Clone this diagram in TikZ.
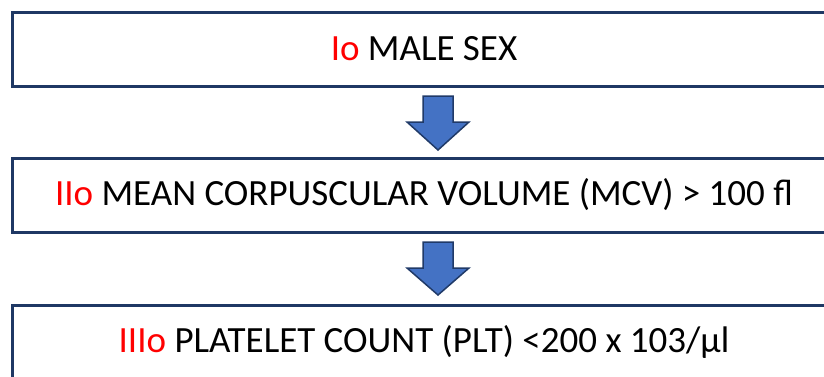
\documentclass[tikz,border=0pt]{standalone}
\usepackage{fontspec}
\setmainfont{Carlito}
\definecolor{boxline}{HTML}{1F3864}
\definecolor{arrfill}{HTML}{4472C4}
\definecolor{arrline}{HTML}{203A68}
\begin{document}
\begin{tikzpicture}[x=1pt,y=-1pt,
  stepbox/.style={draw=boxline,line width=3pt,minimum width=824pt,minimum height=74pt,inner sep=0pt,font=\fontsize{37}{44}\selectfont},
  blockarrow/.style={fill=arrfill,draw=arrline,line width=1.5pt,line join=miter}]
\useasboundingbox (0,0) rectangle (824,376);
\node[stepbox] (b1) at (424,49) {\textcolor{red}{Io} MALE SEX};
\node[stepbox] (b2) at (424,195) {\textcolor{red}{IIo} MEAN CORPUSCULAR VOLUME (MCV) {>} 100 fl};
\node[stepbox] (b3) at (424,342) {\textcolor{red}{IIIo} PLATELET COUNT (PLT) {<}200 x 103/µl};
\draw[blockarrow] (423,96) -- (453,96) -- (453,122) -- (469,122) -- (438,150) -- (407,122) -- (423,122) -- cycle;
\draw[blockarrow] (423,242) -- (453,242) -- (453,268) -- (469,268) -- (438,295) -- (407,268) -- (423,268) -- cycle;
\end{tikzpicture}
\end{document}
